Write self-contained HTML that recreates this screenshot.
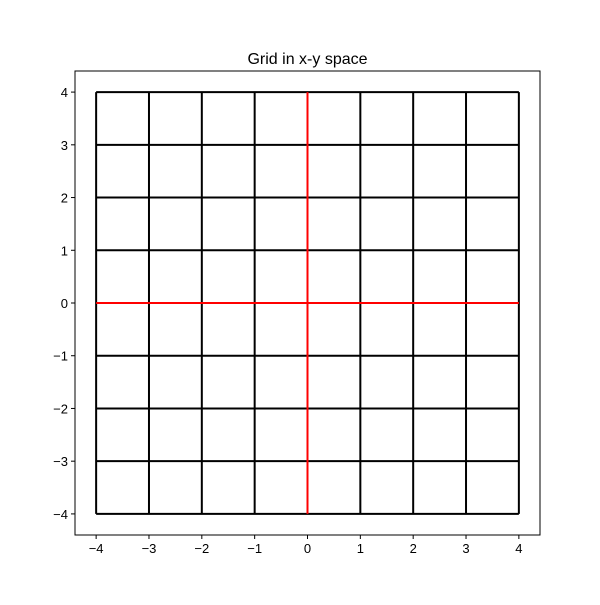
<!DOCTYPE html>
<html><head><meta charset="utf-8"><style>
body{margin:0;background:#fff}
svg text{font-family:"Liberation Sans","DejaVu Sans",sans-serif;font-size:13px;fill:#000}
</style></head><body>
<svg id="chart" width="600" height="600" viewBox="0 0 600 600">
<rect width="600" height="600" fill="#fff"/>
<text x="307.5" y="64" text-anchor="middle" style="font-size:16px">Grid in x-y space</text>
<g id="marks"></g>
<g id="axes"></g>
</svg>
<script>
const xTicks=[-4,-3,-2,-1,0,1,2,3,4];
const yTicks=[-4,-3,-2,-1,0,1,2,3,4];
const gridX=[-4,-3,-2,-1,0,1,2,3,4];
const gridY=[-4,-3,-2,-1,0,1,2,3,4];
const xMin=-4.4,xMax=4.4,yMin=-4.4,yMax=4.4;
const L=75,R=540,T=71,B=535;
const sx=v=>L+(v-xMin)/(xMax-xMin)*(R-L);
const sy=v=>B-(v-yMin)/(yMax-yMin)*(B-T);
const NS="http://www.w3.org/2000/svg";
const marks=document.getElementById('marks'),axes=document.getElementById('axes');
function ln(p,x1,y1,x2,y2,c,w){const l=document.createElementNS(NS,'line');l.setAttribute('x1',x1);l.setAttribute('y1',y1);l.setAttribute('x2',x2);l.setAttribute('y2',y2);l.setAttribute('stroke',c);l.setAttribute('stroke-width',w);p.appendChild(l);return l;}
const g0=Math.min(...gridY),g1=Math.max(...gridY),h0=Math.min(...gridX),h1=Math.max(...gridX);
gridX.forEach(v=>{if(v!==0){const l=ln(marks,sx(v),sy(g0),sx(v),sy(g1),'#000',2);

}});
gridY.forEach(v=>{if(v!==0){const l=ln(marks,sx(h0),sy(v),sx(h1),sy(v),'#000',2);

}});
{const l=ln(marks,sx(0),sy(g0),sx(0),sy(g1),'#f00',2);

}
{const l=ln(marks,sx(h0),sy(0),sx(h1),sy(0),'#f00',2);

}
const fr=document.createElementNS(NS,'rect');
fr.setAttribute('x',L);fr.setAttribute('y',T);fr.setAttribute('width',R-L);fr.setAttribute('height',B-T);
fr.setAttribute('fill','none');fr.setAttribute('stroke','#000');fr.setAttribute('stroke-width',1);


axes.appendChild(fr);
const fmt=v=>v<0?'\u2212'+Math.abs(v):''+v;
xTicks.forEach(v=>{ln(axes,sx(v),B,sx(v),B+4,'#000',1);
const t=document.createElementNS(NS,'text');t.setAttribute('x',sx(v));t.setAttribute('y',B+18);t.setAttribute('text-anchor','middle');t.textContent=fmt(v);


axes.appendChild(t);});
yTicks.forEach(v=>{ln(axes,L-4,sy(v),L,sy(v),'#000',1);
const t=document.createElementNS(NS,'text');t.setAttribute('x',L-7);t.setAttribute('y',sy(v)+5);t.setAttribute('text-anchor','end');t.textContent=fmt(v);


axes.appendChild(t);});
</script>
</body></html>
